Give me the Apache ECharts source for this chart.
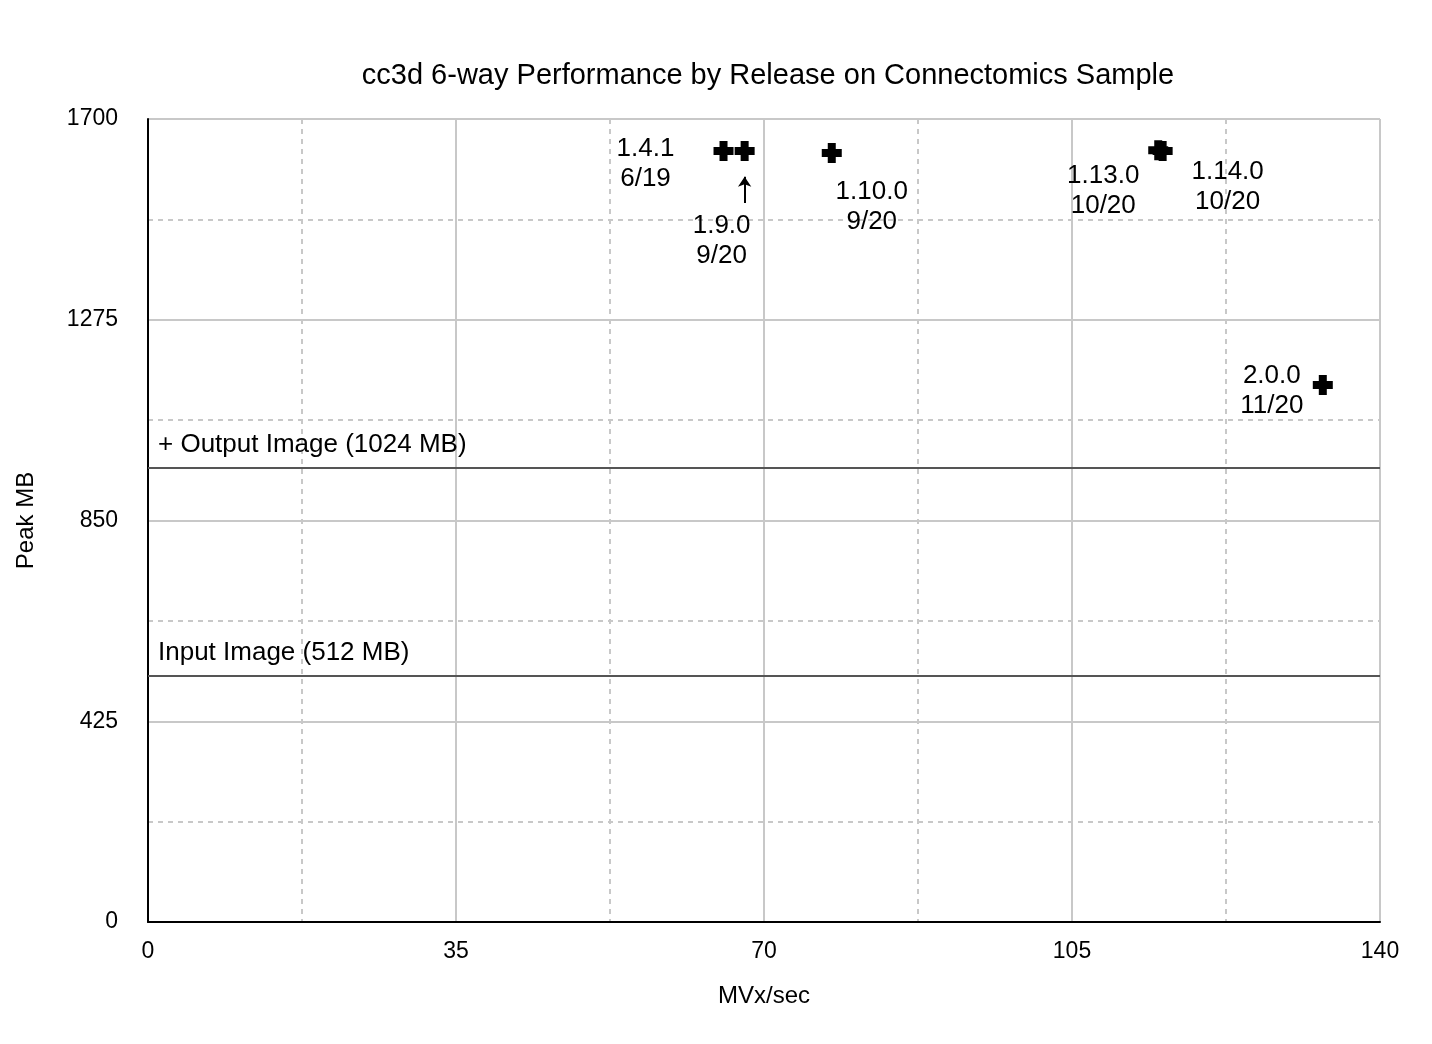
<!DOCTYPE html>
<html>
<head>
<meta charset="utf-8">
<script src="https://cdn.jsdelivr.net/npm/echarts@6/dist/echarts.min.js"></script>
<style>html,body{margin:0;background:#fff}#c{width:1432px;height:1044px}</style>
</head>
<body>
<div id="c"></div>
<script>
var releases = ['1.4.1\n6/19', '1.9.0\n9/20', '1.10.0\n9/20', '1.13.0\n10/20', '1.14.0\n10/20', '2.0.0\n11/20'];
var speed = [65.4, 67.8, 77.7, 114.8, 115.3, 133.5];
var peakMB = [1632, 1632, 1628, 1634, 1632, 1137];
var labelOffsets = [[-78, 13], [-23, 90], [40, 54], [-55, 41], [65, 36], [-51, 6]];
var refLines = [['+ Output Image (1024 MB)', 961], ['Input Image (512 MB)', 521]];

var font = 'Helvetica, "Liberation Sans", Arial, sans-serif';
var cross = 'path://M3,0H7V3H10V7H7V10H3V7H0V3H3Z';

var points = speed.map(function (x, i) {
    return {
        value: [x, peakMB[i]],
        label: { formatter: releases[i], offset: labelOffsets[i] }
    };
});

var plain = function (v) { return String(v); };

var myChart = echarts.init(document.getElementById('c'), null, { renderer: 'canvas' });
myChart.setOption({
    animation: false,
    title: {
        text: 'cc3d 6-way Performance by Release on Connectomics Sample',
        left: 763, top: 56, textAlign: 'center',
        textStyle: { fontFamily: font, fontSize: 29, fontWeight: 'normal', color: '#000' }
    },
    grid: { left: 148, right: 52, top: 119, bottom: 122 },
    xAxis: [{
        type: 'value', min: 0, max: 140, interval: 35,
        name: 'MVx/sec', nameLocation: 'middle', nameGap: 62,
        nameTextStyle: { fontFamily: font, fontSize: 24, color: '#000' },
        axisLine: { lineStyle: { color: '#000', width: 2 } },
        axisTick: { show: false },
        axisLabel: { fontFamily: font, fontSize: 23, color: '#000', margin: 18, formatter: plain },
        splitLine: { lineStyle: { color: '#c8c8c8', width: 2 } }
    }, {
        type: 'value', min: 0, max: 140, interval: 17.5, position: 'bottom',
        axisLine: { show: false }, axisTick: { show: false }, axisLabel: { show: false },
        splitLine: { lineStyle: { color: '#c8c8c8', width: 2, type: [5, 5] } }
    }],
    yAxis: [{
        type: 'value', min: 0, max: 1700, interval: 425,
        name: 'Peak MB', nameLocation: 'middle', nameGap: 110,
        nameTextStyle: { fontFamily: font, fontSize: 24, color: '#000' },
        axisLine: { show: true, lineStyle: { color: '#000', width: 2 } },
        axisTick: { show: false },
        axisLabel: { fontFamily: font, fontSize: 23, color: '#000', margin: 30, formatter: plain },
        splitLine: { lineStyle: { color: '#c8c8c8', width: 2 } }
    }, {
        type: 'value', min: 0, max: 1700, interval: 212.5, position: 'left',
        axisLine: { show: false }, axisTick: { show: false }, axisLabel: { show: false },
        splitLine: { lineStyle: { color: '#c8c8c8', width: 2, type: [5, 5] } }
    }],
    series: [{
        type: 'scatter',
        symbol: cross, symbolSize: 20,
        itemStyle: { color: '#000', opacity: 1 },
        label: {
            show: true, position: 'inside', color: '#000', opacity: 1,
            fontFamily: font, fontSize: 26, lineHeight: 30, align: 'center'
        },
        data: points,
        markLine: {
            silent: true,
            symbol: 'none',
            lineStyle: { color: '#555', width: 2, type: 'solid', opacity: 1 },
            label: {
                position: 'insideStartTop', distance: [10, 10], color: '#000',
                fontFamily: font, fontSize: 26, formatter: '{b}'
            },
            data: refLines.map(function (r) { return { name: r[0], yAxis: r[1] }; })
        }
    }, {
        type: 'line', data: [],
        markLine: {
            silent: true,
            symbol: ['none', 'arrow'], symbolSize: 10,
            lineStyle: { color: '#000', width: 2, type: 'solid', opacity: 1 },
            label: { show: false },
            data: [[{ coord: [67.8, 1522] }, { coord: [67.8, 1578] }]]
        }
    }]
});
</script>
</body>
</html>
